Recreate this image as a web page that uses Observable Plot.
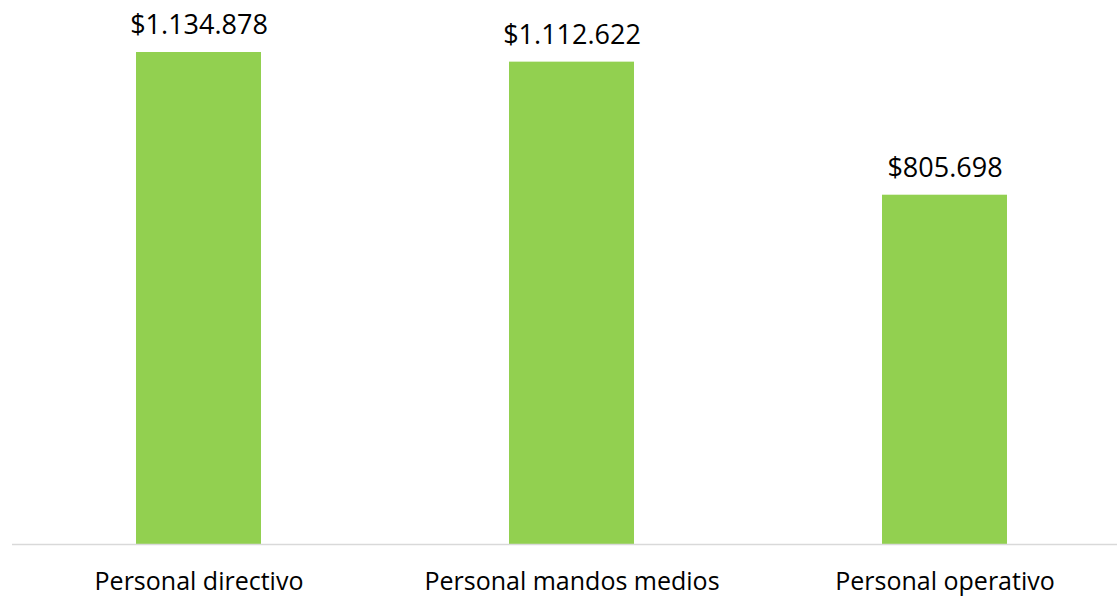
<!DOCTYPE html>
<html><head><meta charset="utf-8">
<script src="https://cdn.jsdelivr.net/npm/d3@7"></script>
<script src="https://cdn.jsdelivr.net/npm/@observablehq/plot@0.6"></script>
<style>body{margin:0;background:#fff;} svg{display:block;}</style>
</head><body><div id="chart"></div>
<script>
const categories = ["Personal directivo", "Personal mandos medios", "Personal operativo"];
const values = [1134878, 1112622, 805698];
const valueLabels = ["$1.134.878", "$1.112.622", "$805.698"];

const data = categories.map((c, i) => ({cat: c, value: values[i], label: valueLabels[i]}));

const chart = Plot.plot({
  width: 1117,
  height: 597,
  marginLeft: 12,
  marginRight: 0,
  marginTop: 0,
  marginBottom: 53,
  style: {fontFamily: "Open Sans, Lato, sans-serif", background: "#fff"},
  x: {domain: categories, range: [12, 1131], paddingInner: 0.665, paddingOuter: 0.3325, align: 0.5, label: null},
  y: {domain: [0, 1134878], range: [544, 52], axis: null},
  marks: [
    Plot.barY(data, {x: "cat", y: "value", fill: "#92D050"}),
    Plot.ruleY([0], {stroke: "#D9D9D9", strokeWidth: 1.5}),
    Plot.text(data, {x: "cat", y: "value", text: "label", dy: -27, fontSize: 27, fill: "#000"}),
    Plot.axisX({tickSize: 0, tickPadding: 28, fontSize: 25, color: "#000", label: null})
  ]
});
chart.querySelectorAll("g[aria-label='x-axis tick label'] text").forEach(t => t.setAttribute("font-size", 25));
document.getElementById("chart").appendChild(chart);
</script></body></html>
